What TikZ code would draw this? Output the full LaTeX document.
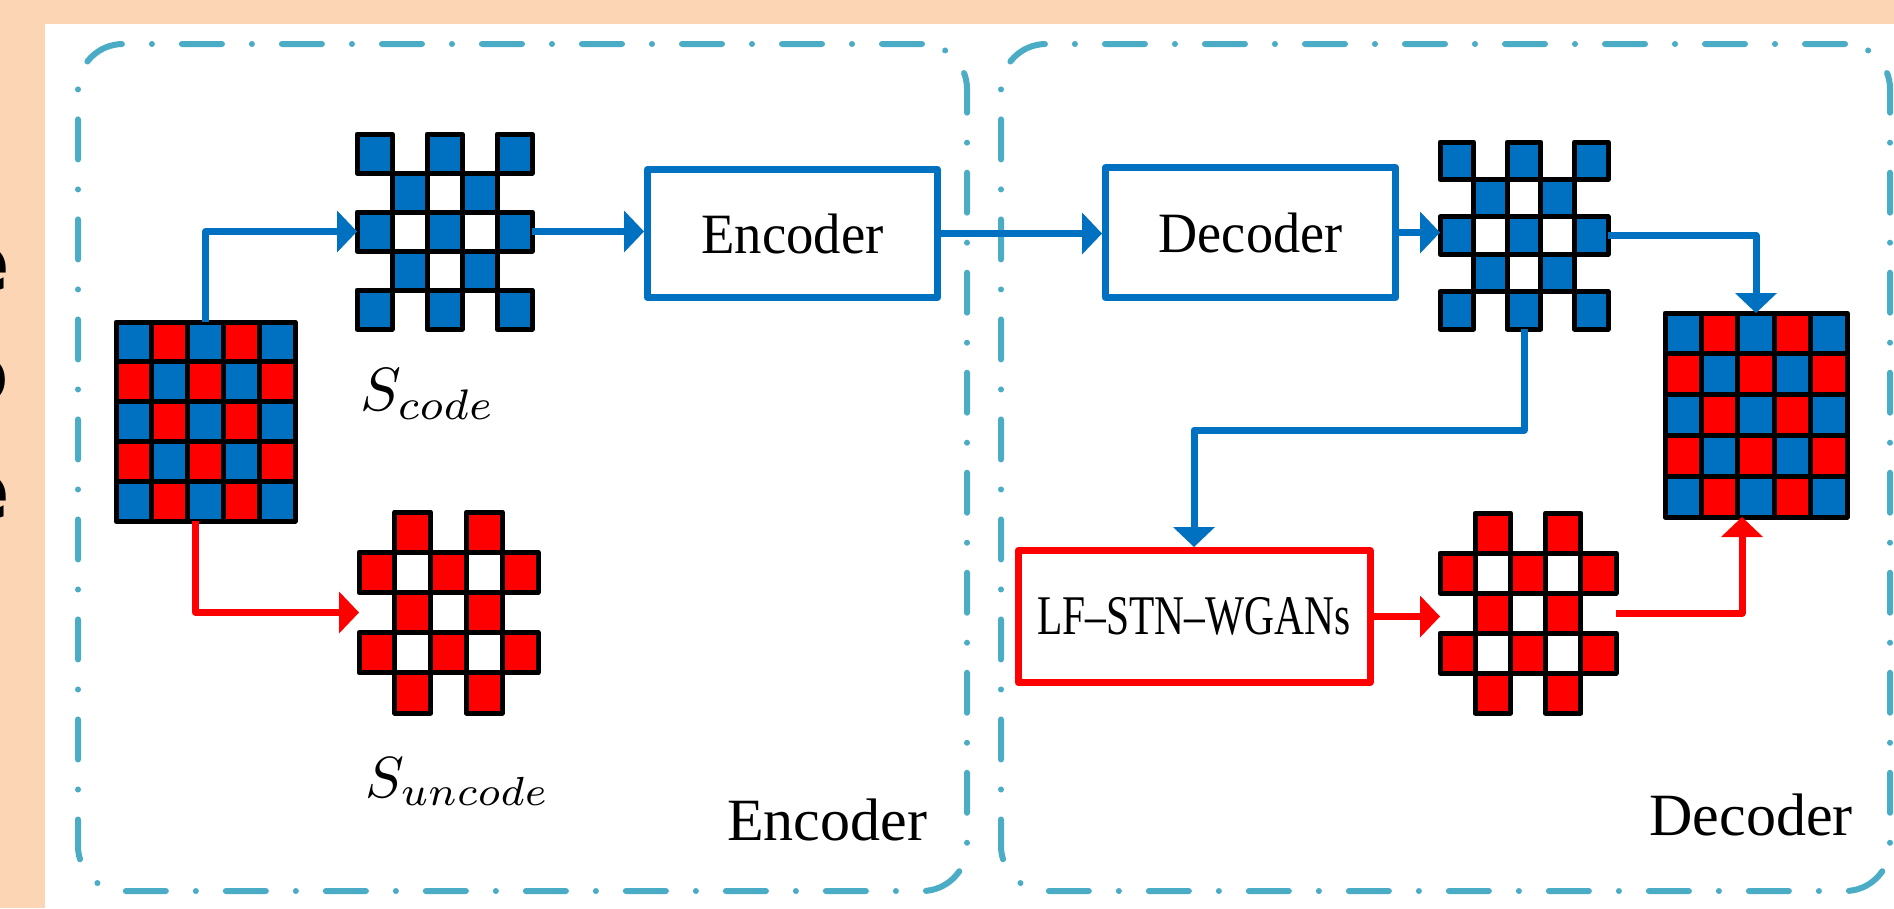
\documentclass[tikz,border=0pt]{standalone}
\usepackage{fontspec}
\usepackage{graphicx}
\usetikzlibrary{arrows.meta}
\newfontfamily\labelfont{Liberation Serif}
\newfontfamily\sidefont{DejaVu Sans}
\definecolor{cblue}{HTML}{0070C0}
\definecolor{cred}{HTML}{FF0000}
\definecolor{stageline}{HTML}{4BACC6}
\definecolor{peach}{HTML}{FCD5B5}

% cell lists: row/column/colour
\def\srccells{0/0/cblue,0/1/cred,0/2/cblue,0/3/cred,0/4/cblue,1/0/cred,1/1/cblue,1/2/cred,1/3/cblue,1/4/cred,2/0/cblue,2/1/cred,2/2/cblue,2/3/cred,2/4/cblue,3/0/cred,3/1/cblue,3/2/cred,3/3/cblue,3/4/cred,4/0/cblue,4/1/cred,4/2/cblue,4/3/cred,4/4/cblue}
\def\codecells{0/0/cblue,0/2/cblue,0/4/cblue,1/1/cblue,1/2/white,1/3/cblue,2/0/cblue,2/1/white,2/2/cblue,2/3/white,2/4/cblue,3/1/cblue,3/2/white,3/3/cblue,4/0/cblue,4/2/cblue,4/4/cblue}
\def\uncodecells{0/1/cred,0/3/cred,1/0/cred,1/1/white,1/2/cred,1/3/white,1/4/cred,2/1/cred,2/2/white,2/3/cred,3/0/cred,3/1/white,3/2/cred,3/3/white,3/4/cred,4/1/cred,4/3/cred}

% name, left, top, width, height, cell list
\newcommand\drawpattern[6]{%
  \pgfmathsetmacro\cw{#4/5}\pgfmathsetmacro\ch{#5/5}%
  \foreach \r/\c/\k in #6
    \path[cellbox, fill=\k] ({#2+\c*\cw},{#3+\r*\ch}) rectangle ++(\cw,\ch);
  \node[gridframe, minimum width=#4pt, minimum height=#5pt, anchor=north west] (#1) at (#2,#3) {};
}

\tikzset{
  cellbox/.style={draw=black, line width=5pt, line join=round},
  gridframe/.style={inner sep=0pt, outer sep=0pt},
  stagebox/.style={draw=stageline, line width=6pt, line cap=round, rounded corners=45pt,
    dash pattern=on 40pt off 30pt on 0.01pt off 30pt, inner sep=0pt},
  procbox/.style={line width=7pt, fill=white, inner sep=0pt, line join=round},
  flow/.style={line width=7pt, line join=round,
    -{Triangle[length=20pt, width=42pt, line width=0pt]}},
  stagetext/.style={inner sep=0pt, anchor=base, font=\labelfont\fontsize{60pt}{64pt}\selectfont},
  sidetext/.style={inner sep=0pt, anchor=base east, font=\sidefont\bfseries\fontsize{82pt}{86pt}\selectfont},
}

\begin{document}
\begin{tikzpicture}[x=1pt, y=-1pt]
\useasboundingbox (0,0) rectangle (1894,908);
\fill[peach] (0,0) rectangle (1894,908);
\fill[white] (45,24) rectangle (1894,908);

% letters running in from the left margin
\node[sidetext] (side1) at (10,291) {e};
\node[sidetext] (side2) at (9,402) {o};
\node[sidetext] (side3) at (10,519) {e};

% the two stages
\node[stagebox, minimum width=889pt, minimum height=847pt] (encstage) at (522.5,467.5) {};
\node[stagebox, minimum width=889pt, minimum height=847pt] (decstage) at (1445.5,467.5) {};

% sampling patterns
\drawpattern{src}{116}{322}{179}{199}{\srccells}
\drawpattern{scode}{357}{134}{175}{195}{\codecells}
\drawpattern{suncode}{359}{512}{179}{201}{\uncodecells}
\drawpattern{dscode}{1440}{142}{168}{187}{\codecells}
\drawpattern{dsun}{1440}{513}{176}{200}{\uncodecells}
\drawpattern{final}{1665}{313}{182}{204}{\srccells}

% processing blocks
\node[procbox, draw=cblue, minimum width=290pt, minimum height=128pt] (enc) at (792.5,233.5)
  {\labelfont\fontsize{57pt}{60pt}\selectfont\scalebox{0.96}[1]{Encoder}};
\node[procbox, draw=cblue, minimum width=290pt, minimum height=130pt] (dec) at (1250.5,232.5)
  {\labelfont\fontsize{57pt}{60pt}\selectfont\scalebox{0.95}[1]{Decoder}};
\node[procbox, draw=cred, minimum width=352pt, minimum height=132pt] (lf) at (1194,616.5)
  {\labelfont\fontsize{56pt}{60pt}\selectfont\scalebox{0.74}[1]{LF–STN–WGANs}};

% labels
\node[inner sep=0pt, anchor=base west] (lcode) at (360,410) {\scalebox{6.1}{$S_{code}$}};
\node[inner sep=0pt, anchor=base west] (luncode) at (365,797) {\scalebox{5.8}{$S_{uncode}$}};
\node[stagetext] (enclabel) at (827,840) {Encoder};
\node[stagetext] (declabel) at (1751,835) {Decoder};

% connectors
\coordinate (turn) at (1194,430);
\draw[flow, cblue] (src.north) |- (scode.west);
\draw[flow, cred] ([xshift=-10pt]src.south) |- (suncode.west);
\draw[flow, cblue] (scode.east) -- (scode.east -| enc.west);
\draw[flow, cblue] (enc.east) -- (enc.east -| dec.west);
\draw[flow, cblue] (dec.east) -- (dec.east -| dscode.west);
\draw[flow, cblue] (dscode.east) -| (final.north);
\draw[flow, cblue] (dscode.south) |- (turn) -| (lf.north);
\draw[flow, cred] (lf.east) -- (lf.east -| dsun.west);
\draw[flow, cred] (dsun.east) -| ([xshift=-14pt]final.south);
\end{tikzpicture}
\end{document}
